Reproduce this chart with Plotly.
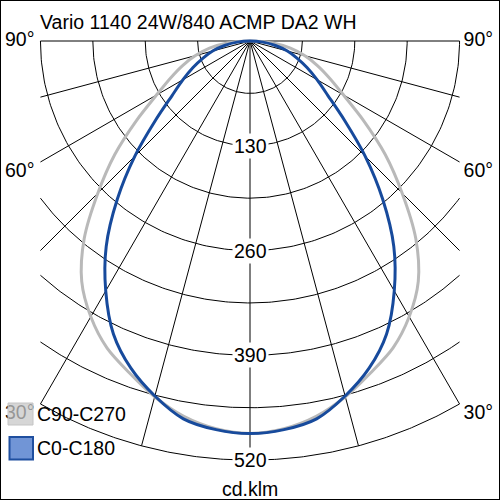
import math
import plotly.graph_objects as go

# ---------------- data ----------------
title_text = "Vario 1140 24W/840 ACMP DA2 WH"
unit_text = "cd.klm"

angles = [-90, -85, -80, -75, -70, -65, -60, -55, -50, -45, -40, -35, -30, -25, -20, -15, -10, -5,
          0, 5, 10, 15, 20, 25, 30, 35, 40, 45, 50, 55, 60, 65, 70, 75, 80, 85, 90]

c0_c180 = [0, 16, 32, 48, 62, 78, 96, 118, 153, 202, 256, 311, 358, 401, 432, 456, 476, 484,
           487, 484, 476, 456, 432, 401, 358, 311, 256, 202, 153, 118, 96, 78, 62, 48, 32, 16, 0]

c90_c270 = [0, 28, 51, 70, 89, 109, 134, 172, 219, 267, 320, 364, 395, 420, 438, 457, 473, 483,
            487, 483, 473, 457, 438, 420, 395, 364, 320, 267, 219, 172, 134, 109, 89, 70, 51, 28, 0]

series_names = ["C90-C270", "C0-C180"]

r_grid = [65, 130, 195, 260, 325, 390, 455, 520]
r_tick_labels = [130, 260, 390, 520]
theta_grid = [-90, -75, -60, -45, -30, -15, 0, 15, 30, 45, 60, 75, 90]
angle_labels = [90, 60, 30]

R_MAX = 520
HALF_W = 260  # half width of the clipped grid box (cd/klm)

# ---------------- geometry helpers ----------------
S = 0.806          # px per cd/klm
CX, CY = 250, 41   # pixel position of the origin
W = H = 500


def to_xy(theta_deg, r):
    t = math.radians(theta_deg)
    return r * math.sin(t), -r * math.cos(t)


xs_grid, ys_grid = [], []
for r in r_grid:
    lim = 90.0 if r <= HALF_W else math.degrees(math.asin(HALF_W / r))
    n = 181
    for i in range(n):
        th = -lim + 2 * lim * i / (n - 1)
        x, y = to_xy(th, r)
        xs_grid.append(x)
        ys_grid.append(y)
    xs_grid.append(None)
    ys_grid.append(None)
for th in theta_grid:
    s = abs(math.sin(math.radians(th)))
    L = R_MAX if s < 1e-9 else min(R_MAX, HALF_W / s)
    x, y = to_xy(th, L)
    xs_grid += [0, x, None]
    ys_grid += [0, y, None]

fig = go.Figure()
fig.add_trace(go.Scatter(x=xs_grid, y=ys_grid, mode="lines",
                         line=dict(color="black", width=1), hoverinfo="skip",
                         showlegend=False))


def curve(vals):
    xs, ys = [], []
    for th, r in zip(angles, vals):
        x, y = to_xy(th, r)
        xs.append(x)
        ys.append(y)
    return xs, ys


gx, gy = curve(c90_c270)
fig.add_trace(go.Scatter(x=gx, y=gy, mode="lines", name=series_names[0],
                         line=dict(color="#b9b9b9", width=3, shape="spline", smoothing=0.85),
                         showlegend=False))
bx, by = curve(c0_c180)
fig.add_trace(go.Scatter(x=bx, y=by, mode="lines", name=series_names[1],
                         line=dict(color="#174a9c", width=3, shape="spline", smoothing=0.85),
                         showlegend=False))

FONT = "Liberation Sans, Arial, sans-serif"
FS = 19.5

lx, ly, lt, rx_, ry_, rt = [], [], [], [], [], []
for a in angle_labels:
    s = math.sin(math.radians(a))
    L = min(R_MAX, HALF_W / s)
    x, y = to_xy(a, L)
    off = 0 if a == 90 else 12.4
    lx.append(-HALF_W - 6 / S)
    ly.append(y - off)
    lt.append(f"{a}°")
    rx_.append(HALF_W + 4 / S)
    ry_.append(y - off)
    rt.append(f"{a}°")
fig.add_trace(go.Scatter(x=lx, y=ly, text=lt, mode="text", textposition="middle left",
                         textfont=dict(family=FONT, size=FS, color="black"),
                         hoverinfo="skip", showlegend=False))
fig.add_trace(go.Scatter(x=rx_, y=ry_, text=rt, mode="text", textposition="middle right",
                         textfont=dict(family=FONT, size=FS, color="black"),
                         hoverinfo="skip", showlegend=False))

annotations = []
for r in r_tick_labels:
    annotations.append(dict(x=0, y=-r, xref="x", yref="y", text=str(r), showarrow=False,
                            font=dict(family=FONT, size=FS, color="black"),
                            bgcolor="white", borderpad=1, xanchor="center", yanchor="middle"))


def px(x):
    return x / W


def py(y):
    return 1 - y / H


annotations.append(dict(x=px(250), y=py(489), xref="paper", yref="paper", text=unit_text,
                        showarrow=False, font=dict(family=FONT, size=FS, color="black"),
                        xanchor="center", yanchor="middle"))
annotations.append(dict(x=px(38), y=py(22), xref="paper", yref="paper", text=title_text,
                        showarrow=False, font=dict(family=FONT, size=FS, color="black"),
                        xanchor="left", yanchor="middle"))
annotations.append(dict(x=px(35), y=py(414), xref="paper", yref="paper", text=series_names[0],
                        showarrow=False, font=dict(family=FONT, size=FS, color="black"),
                        xanchor="left", yanchor="middle"))
annotations.append(dict(x=px(35), y=py(448), xref="paper", yref="paper", text=series_names[1],
                        showarrow=False, font=dict(family=FONT, size=FS, color="black"),
                        xanchor="left", yanchor="middle"))

shapes = [
    dict(type="rect", xref="paper", yref="paper", x0=px(8), x1=px(33), y0=py(425), y1=py(403),
         fillcolor="rgba(200,200,200,0.75)", line=dict(color="#c4c4c4", width=1), layer="above"),
    dict(type="rect", xref="paper", yref="paper", x0=px(9.5), x1=px(33), y0=py(459.5), y1=py(437),
         fillcolor="#7195d6", line=dict(color="#1f4f9f", width=2), layer="above"),
    dict(type="rect", xref="paper", yref="paper", x0=0, x1=1, y0=0, y1=1,
         line=dict(color="black", width=2), fillcolor="rgba(0,0,0,0)", layer="above"),
]

fig.update_layout(
    width=W, height=H,
    margin=dict(l=0, r=0, t=0, b=0),
    paper_bgcolor="white", plot_bgcolor="white",
    xaxis=dict(range=[-CX / S, (W - CX) / S], visible=False, fixedrange=True),
    yaxis=dict(range=[-(H - CY) / S, CY / S], visible=False, fixedrange=True),
    annotations=annotations,
    shapes=shapes,
    showlegend=False,
)

fig.write_html("out.html", config={"displayModeBar": False},
               post_script="document.body.style.margin='0';document.body.style.overflow='hidden';")
